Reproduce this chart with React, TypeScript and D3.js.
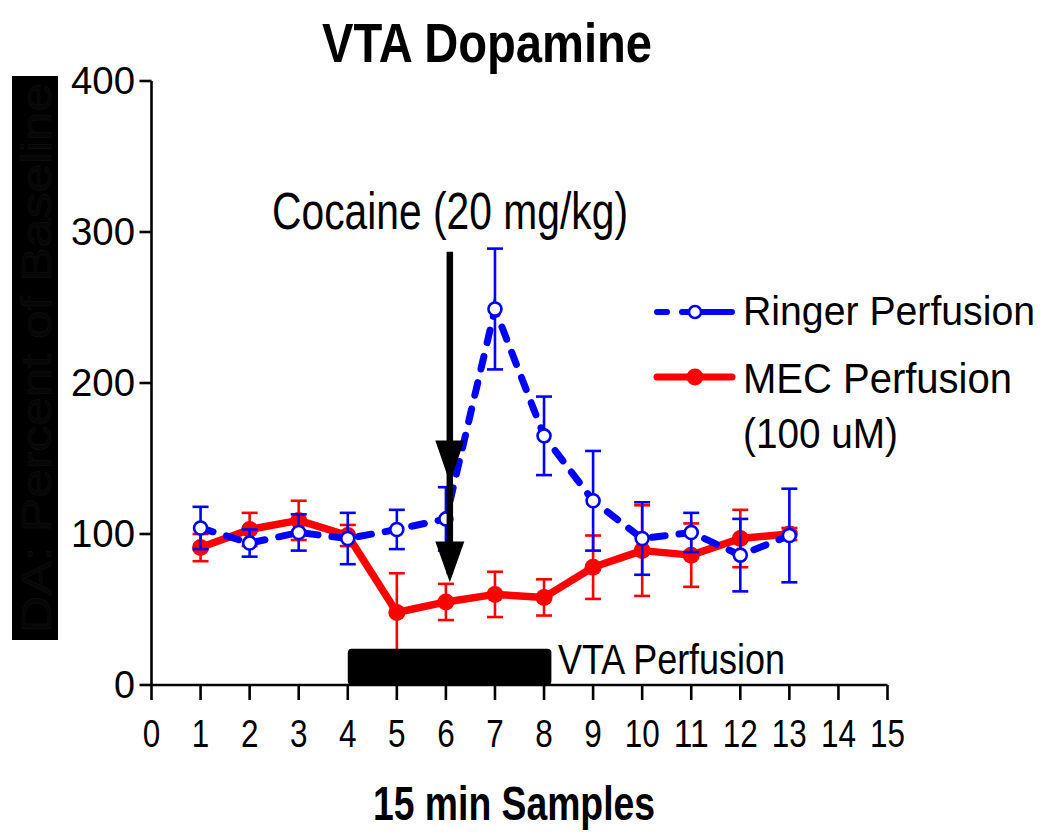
import React from 'react';
import * as d3 from 'd3';

const samples = [1, 2, 3, 4, 5, 6, 7, 8, 9, 10, 11, 12, 13];
const ringerMean = [104, 94, 101, 97, 103, 110, 249, 165, 122, 97, 101, 86, 99];
const ringerSem = [14, 9, 12, 17, 13, 21, 40, 26, 33, 24, 13, 24, 31];
const mecMean = [91, 103, 109, 99, 48, 55, 60, 58, 78, 89, 86, 97, 100];
const mecSem = [9, 11, 13, 7, 26, 12, 15, 12, 21, 30, 21, 19, 4];

const xTicks = d3.range(0, 16);
const yTicks = [0, 100, 200, 300, 400];

const perfusionStart = 4;
const perfusionEnd = 8.15;
const perfusionHeight = 24;

const cocaineX = 6.08;
const arrowTop = 287;
const arrowHead1 = [162, 134];
const arrowHead2 = [95, 68];

const FONT = "'Liberation Sans', Arial, Helvetica, sans-serif";

export default function App() {
  const W = 1050, H = 840;
  const x = d3.scaleLinear().domain([0, 15]).range([151.5, 887.5]);
  const y = d3.scaleLinear().domain([0, 400]).range([685, 81]);

  const ringer = samples.map((s, i) => ({ s, m: ringerMean[i], e: ringerSem[i] }));
  const mec = samples.map((s, i) => ({ s, m: mecMean[i], e: mecSem[i] }));
  const line = d3.line<{ s: number; m: number }>().x(d => x(d.s)).y(d => y(d.m));

  const cap = 8;
  const errBars = (data: { s: number; m: number; e: number }[], color: string) =>
    data.map((d, i) => (
      <g key={i} stroke={color} strokeWidth={2.6}>
        <line x1={x(d.s)} x2={x(d.s)} y1={y(d.m - d.e)} y2={y(d.m + d.e)} />
        <line x1={x(d.s) - cap} x2={x(d.s) + cap} y1={y(d.m + d.e)} y2={y(d.m + d.e)} />
        <line x1={x(d.s) - cap} x2={x(d.s) + cap} y1={y(d.m - d.e)} y2={y(d.m - d.e)} />
      </g>
    ));

  const ax = x(cocaineX);
  const head = (top: number, tip: number) =>
    `M${ax - 14.5},${y(top)} L${ax + 14.5},${y(top)} L${ax},${y(tip)} Z`;

  return (
    <svg width={W} height={H} style={{ position: 'absolute', left: 0, top: 0, background: '#fff' }}
      fontFamily={FONT}>
      <rect x={0} y={0} width={W} height={H} fill="#fff" />
      {/* Title */}
      <text x={487} y={62} fontSize={55} fontWeight="bold" textAnchor="middle"
        textLength={330} lengthAdjust="spacingAndGlyphs">VTA Dopamine</text>

      {/* Y label box */}
      <rect x={12} y={76} width={46} height={564} fill="#000" />
      <text transform="translate(51,358) rotate(-90)" fontSize={42} textAnchor="middle"
        fill="#060606" stroke="#141414" strokeWidth={0.4}
        textLength={550} lengthAdjust="spacingAndGlyphs">DA: Percent of Baseline</text>

      {/* MEC series */}
      {errBars(mec, '#ff0000')}
      <path d={line(mec) || ''} fill="none" stroke="#ff0000" strokeWidth={7.5} strokeLinejoin="round" />
      {mec.map((d, i) => (
        <circle key={i} cx={x(d.s)} cy={y(d.m)} r={8.5} fill="#ff0000" />
      ))}

      {/* Ringer series */}
      {errBars(ringer, '#0000ff')}
      <path d={line(ringer) || ''} fill="none" stroke="#0000ff" strokeWidth={7}
        strokeDasharray="13 14" strokeLinecap="round" />
      {ringer.map((d, i) => (
        <circle key={i} cx={x(d.s)} cy={y(d.m)} r={6.5} fill="#fff" stroke="#0000ff" strokeWidth={2.6} />
      ))}

      {/* Perfusion bar */}
      <rect x={x(perfusionStart)} y={y(perfusionHeight)} width={x(perfusionEnd) - x(perfusionStart)}
        height={y(0) - y(perfusionHeight)} rx={4} fill="#000" />
      <text x={558} y={674} fontSize={43} textLength={227} lengthAdjust="spacingAndGlyphs">VTA Perfusion</text>

      {/* Cocaine arrow */}
      <line x1={ax} x2={ax} y1={y(arrowTop)} y2={y(arrowHead2[1]) - 8} stroke="#000" strokeWidth={6.5} />
      <path d={head(arrowHead1[0], arrowHead1[1])} fill="#000" />
      <path d={head(arrowHead2[0], arrowHead2[1])} fill="#000" />
      <text x={272} y={229} fontSize={52} textLength={356} lengthAdjust="spacingAndGlyphs">Cocaine (20 mg/kg)</text>

      {/* Axes */}
      <g stroke="#000" strokeWidth={2.6} fill="none">
        <line x1={x(0)} x2={x(0)} y1={y(400)} y2={y(0)} />
        <line x1={x(0)} x2={x(15)} y1={y(0)} y2={y(0)} />
        {yTicks.map(t => (
          <line key={t} x1={x(0) - 12} x2={x(0)} y1={y(t)} y2={y(t)} />
        ))}
        {xTicks.map(t => (
          <line key={t} x1={x(t)} x2={x(t)} y1={y(0)} y2={y(0) + 15} />
        ))}
      </g>
      {yTicks.map(t => (
        <text key={t} x={135} y={y(t) + 13} fontSize={38} textAnchor="end"
          textLength={t === 0 ? 21 : 64} lengthAdjust="spacingAndGlyphs">{t}</text>
      ))}
      {xTicks.map(t => (
        <text key={t} x={x(t)} y={747} fontSize={39} textAnchor="middle"
          textLength={t >= 10 ? 35 : 17.5} lengthAdjust="spacingAndGlyphs">{t}</text>
      ))}
      <text x={514} y={820} fontSize={48} fontWeight="bold" textAnchor="middle"
        textLength={282} lengthAdjust="spacingAndGlyphs">15 min Samples</text>

      {/* Legend */}
      <g>
        <line x1={657} x2={732} y1={312} y2={312} stroke="#0000ff" strokeWidth={6}
          strokeDasharray="10 15 50" strokeLinecap="round" />
        <circle cx={695} cy={312} r={6} fill="#fff" stroke="#0000ff" strokeWidth={2.6} />
        <text x={743} y={325} fontSize={40.5} textLength={292} lengthAdjust="spacingAndGlyphs">Ringer Perfusion</text>
        <line x1={657} x2={732} y1={377} y2={377} stroke="#ff0000" strokeWidth={7} strokeLinecap="round" />
        <circle cx={695} cy={377} r={8.5} fill="#ff0000" />
        <text x={743} y={393} fontSize={43} textLength={269} lengthAdjust="spacingAndGlyphs">MEC Perfusion</text>
        <text x={743} y={448} fontSize={43} textLength={155} lengthAdjust="spacingAndGlyphs">(100 uM)</text>
      </g>
    </svg>
  );
}
